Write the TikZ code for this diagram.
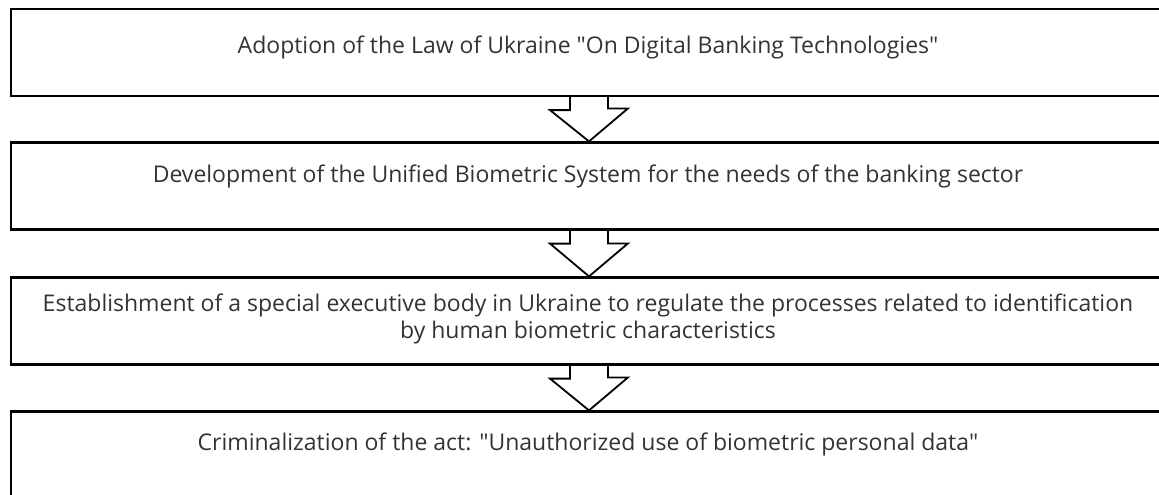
\documentclass[tikz,border=0pt]{standalone}
\usepackage{fontspec}
\setmainfont{Open Sans}
\begin{document}
\begin{tikzpicture}[x=1pt,y=-1pt,
  stage/.style={draw=black,line width=2.2pt,minimum width=1156pt,minimum height=87pt,inner sep=0pt},
  lbl/.style={font=\fontsize{23}{24}\selectfont,text=black!80,align=center,anchor=base},
  flow/.style={draw=black,line width=1.8pt,line join=miter}]
\useasboundingbox (0,0) rectangle (1159,495);
\node[stage] (b1) at (589,52.5) {};
\node[stage] (b2) at (589,186) {};
\node[stage] (b3) at (589,321) {};
\node[stage] (b4) at (589,455) {};
\node[lbl] (t1) at (588,53) {Adoption of the Law of Ukraine \textquotedbl On Digital Banking Technologies\textquotedbl};
\node[lbl] (t2) at (588,182) {Development of the Unified Biometric System for the needs of the banking sector};
\node[lbl,anchor=north] (t3) at (588,290) {Establishment of a special executive body in Ukraine to regulate the processes related to identification\\[3pt]by human biometric characteristics};
\node[lbl] (t4) at (588,450) {Criminalization of the act: \textquotedbl Unauthorized use of biometric personal data\textquotedbl};
\foreach \a/\b in {b1/b2,b2/b3,b3/b4}{
  \draw[flow] ([xshift=-19pt]\a.south) -- ++(0,13) -- ++(-20,0) -- (\b.north) -- ++(39,-33) -- ++(-20,0) -- ([xshift=19pt]\a.south);
}
\end{tikzpicture}
\end{document}
